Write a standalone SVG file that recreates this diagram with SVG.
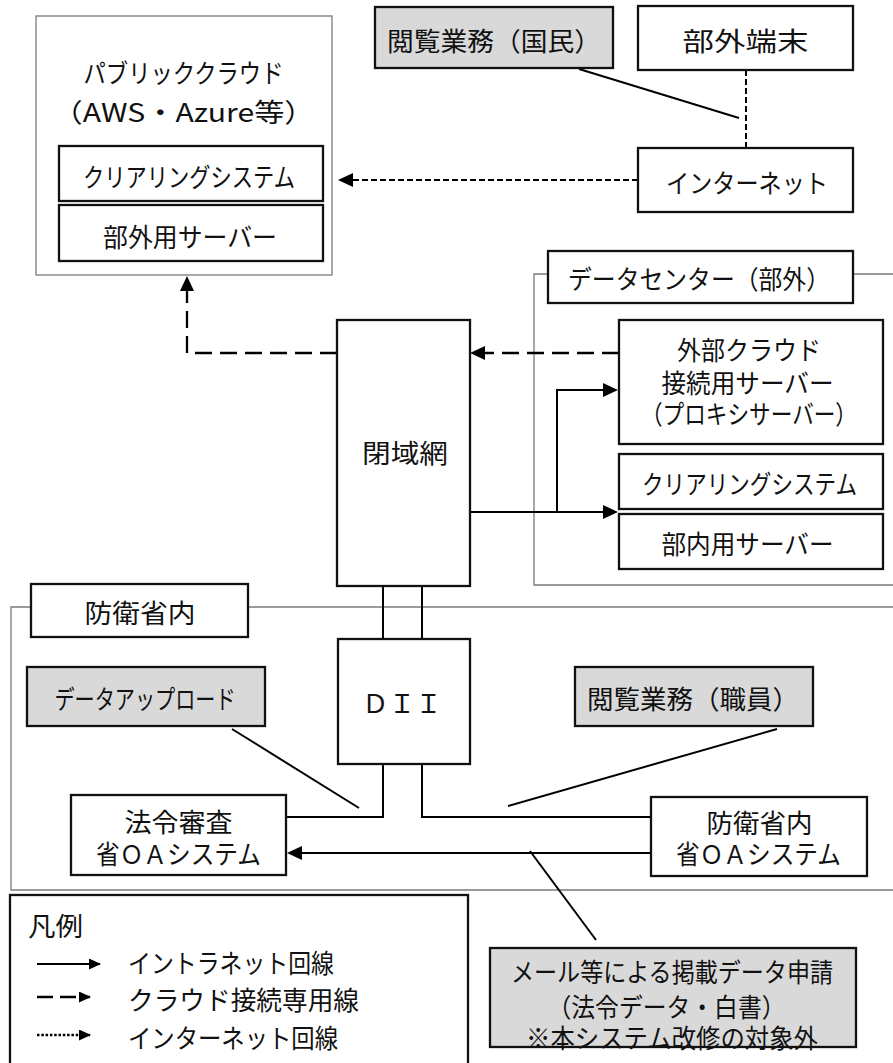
<svg xmlns="http://www.w3.org/2000/svg" width="893" height="1063" viewBox="0 0 893 1063">
<style>
.t{font-family:"Noto Sans CJK JP","Noto Sans",sans-serif;font-size:26px;fill:#111;text-anchor:middle;dominant-baseline:central}
.tl{font-family:"Noto Sans CJK JP","Noto Sans",sans-serif;font-size:26px;fill:#111;dominant-baseline:central}
.box{fill:#fff;stroke:#111;stroke-width:2.3}
.gbox{fill:#d9d9d9;stroke:#111;stroke-width:2.3}
.region{fill:none;stroke:#7a7a7a;stroke-width:1.3}
.solid{fill:none;stroke:#000;stroke-width:2}
.dash{fill:none;stroke:#000;stroke-width:2.3;stroke-dasharray:17 8}
.dot{fill:none;stroke:#000;stroke-width:2;stroke-dasharray:6 3}
</style>
<defs>
<marker id="ah" markerUnits="userSpaceOnUse" viewBox="0 0 15 14" markerWidth="15" markerHeight="14" refX="13" refY="7" orient="auto">
<path d="M0,0 L15,7 L0,14 z" fill="#000"/>
</marker>
<marker id="ahs" markerUnits="userSpaceOnUse" viewBox="0 0 12 11" markerWidth="12" markerHeight="11" refX="11" refY="5.5" orient="auto">
<path d="M0,0 L12,5.5 L0,11 z" fill="#000"/>
</marker>
</defs>
<rect width="893" height="1063" fill="#fff"/>

<g id="regions">
<rect id="cloud-region" class="region" x="36" y="16" width="296" height="259"/>
<polyline class="region" points="547,274 534,274 534,585 893,585"/>
<line class="region" x1="853" y1="274" x2="893" y2="274"/>
<polyline class="region" points="31,607 11,607 11,890 893,890"/>
<line class="region" x1="248" y1="607" x2="893" y2="607"/>
</g>

<g id="connectors">
<line class="dot" x1="746" y1="70" x2="746" y2="148"/>
<line class="solid" x1="579" y1="69" x2="739" y2="118"/>
<line class="dot" x1="638" y1="180" x2="340" y2="180" marker-end="url(#ah)"/>
<polyline class="dash" points="337,353 187,353 187,278" marker-end="url(#ah)"/>
<line class="dash" x1="619" y1="353" x2="472" y2="353" marker-end="url(#ah)"/>
<line class="solid" x1="470" y1="512" x2="616" y2="512" marker-end="url(#ah)"/>
<polyline class="solid" points="557,512 557,390 616,390" marker-end="url(#ah)"/>
<line class="solid" x1="383" y1="586" x2="383" y2="639"/>
<line class="solid" x1="422" y1="586" x2="422" y2="639"/>
<polyline class="solid" points="383,764 383,817 286,817"/>
<polyline class="solid" points="422,764 422,817 651,817"/>
<line class="solid" x1="651" y1="853" x2="289" y2="853" marker-end="url(#ah)"/>
<line class="solid" x1="232" y1="729" x2="359" y2="808"/>
<line class="solid" x1="777" y1="729" x2="508" y2="806"/>
<line class="solid" x1="530" y1="851" x2="596" y2="940"/>
</g>

<g id="cloud-title">
<text class="t" x="183.5" y="71" font-size="27" textLength="200" lengthAdjust="spacingAndGlyphs">パブリッククラウド</text>
<text class="t" x="183.5" y="110" font-size="27" textLength="262" lengthAdjust="spacingAndGlyphs">（AWS・Azure等）</text>
</g>
<g id="cloud-clearing">
<rect class="box" x="59" y="146" width="264" height="55"/>
<text class="t" x="189" y="175" font-size="25" textLength="212" lengthAdjust="spacingAndGlyphs">クリアリングシステム</text>
</g>
<g id="cloud-server">
<rect class="box" x="59" y="205" width="264" height="56"/>
<text class="t" x="190" y="235" textLength="174" lengthAdjust="spacingAndGlyphs">部外用サーバー</text>
</g>

<g id="public-view">
<rect class="gbox" x="375" y="7" width="238" height="61"/>
<text class="t" x="494" y="39" font-size="25" textLength="214" lengthAdjust="spacingAndGlyphs">閲覧業務（国民）</text>
</g>
<g id="external-terminal">
<rect class="box" x="638" y="6" width="215" height="64"/>
<text class="t" x="745.5" y="39.5" font-size="28" textLength="126" lengthAdjust="spacingAndGlyphs">部外端末</text>
</g>
<g id="internet">
<rect class="box" x="638" y="148" width="215" height="64"/>
<text class="t" x="747" y="181" font-size="27" textLength="162" lengthAdjust="spacingAndGlyphs">インターネット</text>
</g>

<g id="dc-label">
<rect class="box" x="548" y="251" width="305" height="52"/>
<text class="t" x="699" y="277" textLength="262" lengthAdjust="spacingAndGlyphs">データセンター（部外）</text>
</g>
<g id="closed-net">
<rect class="box" x="337" y="320" width="133" height="266"/>
<text class="t" x="405" y="451" font-size="28" textLength="86" lengthAdjust="spacingAndGlyphs">閉域網</text>
</g>
<g id="proxy">
<rect class="box" x="619" y="320" width="264" height="124"/>
<text class="t" x="749" y="348" font-size="27" textLength="144" lengthAdjust="spacingAndGlyphs">外部クラウド</text>
<text class="t" x="747.5" y="381" font-size="27" textLength="172" lengthAdjust="spacingAndGlyphs">接続用サーバー</text>
<text class="t" x="749" y="412" font-size="24" textLength="216" lengthAdjust="spacingAndGlyphs">（プロキシサーバー）</text>
</g>
<g id="dc-clearing">
<rect class="box" x="619" y="454" width="264" height="55"/>
<text class="t" x="749.5" y="482" font-size="25" textLength="215" lengthAdjust="spacingAndGlyphs">クリアリングシステム</text>
</g>
<g id="dc-server">
<rect class="box" x="619" y="514" width="264" height="55"/>
<text class="t" x="747.5" y="542" textLength="172" lengthAdjust="spacingAndGlyphs">部内用サーバー</text>
</g>

<g id="mod-label">
<rect class="box" x="31" y="584" width="217" height="53"/>
<text class="t" x="140" y="611.5" font-size="27" textLength="111" lengthAdjust="spacingAndGlyphs">防衛省内</text>
</g>
<g id="dii">
<rect class="box" x="338" y="639" width="132" height="125"/>
<text class="t" x="402" y="701.5" font-size="26" textLength="80" lengthAdjust="spacingAndGlyphs">ＤＩＩ</text>
</g>
<g id="data-upload">
<rect class="gbox" x="27" y="667" width="238" height="59"/>
<text class="t" x="145" y="697" font-size="25" textLength="181" lengthAdjust="spacingAndGlyphs">データアップロード</text>
</g>
<g id="staff-view">
<rect class="gbox" x="575" y="667" width="238" height="59"/>
<text class="t" x="693" y="697" font-size="25" textLength="212" lengthAdjust="spacingAndGlyphs">閲覧業務（職員）</text>
</g>
<g id="law-oa">
<rect class="box" x="71" y="795" width="215" height="80"/>
<text class="t" x="178.5" y="820" font-size="27" textLength="108" lengthAdjust="spacingAndGlyphs">法令審査</text>
<text class="t" x="178.5" y="852.5" textLength="165" lengthAdjust="spacingAndGlyphs">省ＯＡシステム</text>
</g>
<g id="mod-oa">
<rect class="box" x="651" y="797" width="216" height="79"/>
<text class="t" x="759.5" y="821" font-size="27" textLength="106" lengthAdjust="spacingAndGlyphs">防衛省内</text>
<text class="t" x="758.5" y="852.5" textLength="165" lengthAdjust="spacingAndGlyphs">省ＯＡシステム</text>
</g>

<g id="legend">
<rect class="box" x="10" y="895" width="458" height="180"/>
<text class="tl" x="28" y="924" font-size="25" textLength="55" lengthAdjust="spacingAndGlyphs">凡例</text>
<line class="solid" x1="37" y1="964" x2="100" y2="964" marker-end="url(#ahs)"/>
<text class="tl" x="128" y="961.5" textLength="206" lengthAdjust="spacingAndGlyphs">イントラネット回線</text>
<line x1="37" y1="997" x2="90" y2="997" stroke="#000" stroke-width="2.4" stroke-dasharray="16 7" marker-end="url(#ahs)"/>
<text class="tl" x="128" y="998.5" textLength="231" lengthAdjust="spacingAndGlyphs">クラウド接続専用線</text>
<line x1="37" y1="1035" x2="90" y2="1035" stroke="#000" stroke-width="2.4" stroke-dasharray="2.5 1.8" marker-end="url(#ahs)"/>
<text class="tl" x="128" y="1036.5" textLength="210" lengthAdjust="spacingAndGlyphs">インターネット回線</text>
</g>

<g id="mail-request">
<rect class="gbox" x="490" y="948" width="366" height="99"/>
<text class="t" x="672" y="970" font-size="27" textLength="322" lengthAdjust="spacingAndGlyphs">メール等による掲載データ申請</text>
<text class="t" x="666.5" y="1005" textLength="238" lengthAdjust="spacingAndGlyphs">（法令データ・白書）</text>
<text class="t" x="672" y="1036" textLength="292" lengthAdjust="spacingAndGlyphs">※本システム改修の対象外</text>
</g>
</svg>
